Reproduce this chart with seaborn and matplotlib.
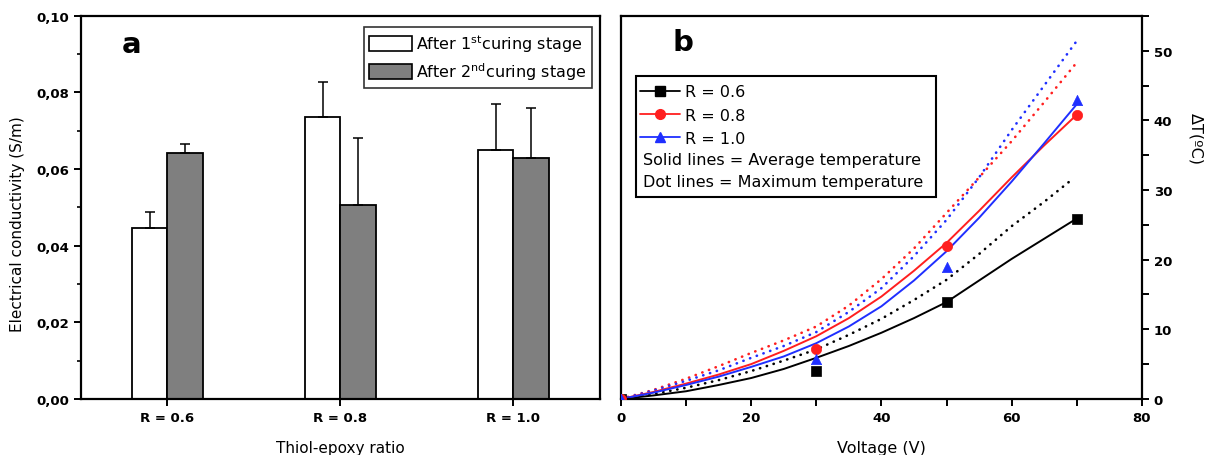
import numpy as np
import pandas as pd
import matplotlib
matplotlib.use("Agg")
import matplotlib.pyplot as plt
import seaborn as sns
from matplotlib.patches import Patch, Rectangle
from matplotlib.lines import Line2D
from matplotlib.ticker import MultipleLocator, FuncFormatter

# ---------------- data: panel a ----------------
categories = ["R = 0.6", "R = 0.8", "R = 1.0"]
stages = ["After 1$^{st}$curing stage", "After 2$^{nd}$curing stage"]
cond_first = [0.0445, 0.0735, 0.0650]
cond_second = [0.0641, 0.0507, 0.0629]
err_top_first = [0.0487, 0.0828, 0.0770]
err_top_second = [0.0666, 0.0680, 0.0760]

# ---------------- data: panel b ----------------
series_labels = ["R = 0.6", "R = 0.8", "R = 1.0"]
volt_pts = [0, 30, 50, 70]
dT_pts_06 = [0, 4.0, 13.9, 25.9]
dT_pts_08 = [0, 7.1, 22.0, 40.8]
dT_pts_10 = [0, 5.8, 19.0, 42.9]

volt_curve = [0, 5, 10, 15, 20, 25, 30, 35, 40, 45, 50, 55, 60, 65, 70]
avg_06 = [0, 0.5, 1.1, 2.0, 3.0, 4.3, 5.9, 7.6, 9.5, 11.6, 13.9, 17.0, 20.1, 23.0, 25.9]
avg_08 = [0, 1.0, 2.2, 3.5, 5.0, 6.9, 9.0, 11.6, 14.7, 18.4, 22.4, 27.0, 31.8, 36.4, 40.8]
avg_10 = [0, 0.9, 2.0, 3.2, 4.6, 6.1, 8.0, 10.4, 13.3, 17.0, 21.2, 26.0, 31.2, 36.7, 42.3]
volt_max_06 = [0, 5, 10, 15, 20, 25, 30, 35, 40, 45, 50, 55, 60, 65, 69]
max_06 = [0, 0.7, 1.6, 2.7, 4.0, 5.5, 7.1, 9.2, 11.5, 14.2, 17.1, 20.8, 24.8, 28.3, 31.3]
max_08 = [0, 1.3, 2.9, 4.7, 6.6, 8.4, 10.4, 13.4, 17.2, 21.6, 26.7, 31.8, 37.0, 42.6, 48.3]
max_10 = [0, 1.2, 2.6, 4.1, 5.9, 7.6, 9.6, 12.5, 15.9, 20.5, 25.7, 31.8, 38.6, 45.0, 51.4]

# ---------------- style ----------------
sns.set_style("ticks")
plt.rcParams["font.family"] = ["DejaVu Sans"]
plt.rcParams["mathtext.default"] = "regular"
plt.rcParams["axes.linewidth"] = 1.6
for k in ["text.color", "axes.labelcolor", "xtick.color", "ytick.color", "axes.edgecolor"]:
    plt.rcParams[k] = "black"

fig = plt.figure(figsize=(12.07, 4.56), dpi=100)
axA = fig.add_axes([0.067, 0.123, 0.430, 0.840])
axB = fig.add_axes([0.5145, 0.123, 0.4315, 0.840])

TICKFONT = dict(labelsize=9.5)

# ---------------- panel a ----------------
df = pd.DataFrame({
    "ratio": categories * 2,
    "value": cond_first + cond_second,
    "stage": [stages[0]] * 3 + [stages[1]] * 3,
})
bar_colors = ["white", "#7f7f7f"]
sns.barplot(data=df, x="ratio", y="value", hue="stage", order=categories,
            hue_order=stages, palette=bar_colors, edgecolor="black",
            linewidth=1.3, width=0.41, legend=False, ax=axA)
tops = [err_top_first, err_top_second]
for p in axA.patches:
    cx = p.get_x() + p.get_width() / 2
    cat = int(round(cx))
    hue = 0 if cx < cat else 1
    h = p.get_height()
    axA.errorbar(cx, h, yerr=[[0], [tops[hue][cat] - h]], fmt="none",
                 ecolor="black", elinewidth=1.1, capsize=3.5, capthick=1.1)

axA.set_xlim(-0.5, 2.5)
axA.set_ylim(0, 0.10)
axA.yaxis.set_major_locator(MultipleLocator(0.02))
axA.yaxis.set_minor_locator(MultipleLocator(0.01))
axA.yaxis.set_major_formatter(FuncFormatter(lambda v, p: f"{v:.2f}".replace(".", ",")))
axA.tick_params(axis="both", which="major", direction="out", length=5, width=1.4,
                **TICKFONT)
axA.tick_params(axis="y", which="minor", direction="out", length=3, width=1.2)
for lab in axA.get_xticklabels() + axA.get_yticklabels():
    lab.set_fontweight("bold")
for s in ["top", "right", "left", "bottom"]:
    axA.spines[s].set_visible(True)
axA.set_xlabel("Thiol-epoxy ratio", fontsize=11, labelpad=12)
axA.set_ylabel("Electrical conductivity (S/m)", fontsize=11, labelpad=10)
axA.yaxis.set_label_coords(-0.108, 0.46)
axA.text(0.098, 0.927, "a", transform=axA.transAxes, fontsize=21,
         fontweight="bold", ha="center", va="center")
handlesA = [Patch(facecolor=c, edgecolor="black", linewidth=1.2) for c in bar_colors]
legA = axA.legend(handlesA, stages, loc="upper right", bbox_to_anchor=(0.985, 0.972),
                  fontsize=11.5, frameon=True, fancybox=False, edgecolor="black",
                  handlelength=2.7, handleheight=1.0, handletextpad=0.25,
                  labelspacing=0.4, borderpad=0.35, borderaxespad=0)
legA.get_frame().set_linewidth(1.2)

# ---------------- panel b ----------------
colors = ["black", "#ff1f1f", "#1f2fff"]
markers = ["s", "o", "^"]
avg_curves = [avg_06, avg_08, avg_10]
max_curves = [(volt_max_06, max_06), (volt_curve, max_08), (volt_curve, max_10)]
pts = [dT_pts_06, dT_pts_08, dT_pts_10]

for i in range(3):
    vx, vy = max_curves[i]
    sns.lineplot(x=vx, y=vy, ax=axB, color=colors[i], linewidth=1.9,
                 linestyle=(0, (0.1, 2.6)), sort=False, estimator=None,
                 dash_capstyle="round")
for i in range(3):
    sns.lineplot(x=volt_curve, y=avg_curves[i], ax=axB, color=colors[i],
                 linewidth=1.4, sort=False, estimator=None)
for i in range(3):
    sns.scatterplot(x=volt_pts, y=pts[i], ax=axB, color=colors[i],
                    marker=markers[i], s=55, edgecolor=colors[i], linewidth=0.5,
                    zorder=5)

axB.set_xlim(0, 80)
axB.set_ylim(0, 55)
axB.xaxis.set_major_locator(MultipleLocator(20))
axB.xaxis.set_minor_locator(MultipleLocator(10))
axB.yaxis.set_major_locator(MultipleLocator(10))
axB.yaxis.set_minor_locator(MultipleLocator(5))
axB.yaxis.tick_right()
axB.yaxis.set_label_position("right")
axB.tick_params(axis="both", which="major", direction="out", length=5, width=1.4,
                **TICKFONT)
axB.tick_params(axis="both", which="minor", direction="out", length=5, width=1.4)
for lab in axB.get_xticklabels() + axB.get_yticklabels():
    lab.set_fontweight("bold")
for s in ["top", "right", "left", "bottom"]:
    axB.spines[s].set_visible(True)
axB.set_xlabel("Voltage (V)", fontsize=11.5, labelpad=12)
axB.set_ylabel("ΔT(ºC)", fontsize=11.5, rotation=270, labelpad=14)
axB.yaxis.set_label_coords(1.118, 0.68)
axB.text(0.119, 0.932, "b", transform=axB.transAxes, fontsize=21,
         fontweight="bold", ha="center", va="center")

handlesB = [Line2D([], [], color=colors[i], marker=markers[i], markersize=7,
                   linewidth=1.3) for i in range(3)]
legB = axB.legend(handlesB, series_labels, loc="upper left",
                  bbox_to_anchor=(0.036, 0.821), frameon=False, fontsize=11.5,
                  handlelength=2.55, handletextpad=0.3, labelspacing=0.52,
                  borderpad=0, borderaxespad=0)
axB.text(0.042, 0.625, "Solid lines = Average temperature", transform=axB.transAxes,
         fontsize=11.5, ha="left", va="center")
axB.text(0.042, 0.567, "Dot lines = Maximum temperature", transform=axB.transAxes,
         fontsize=11.5, ha="left", va="center")
axB.add_patch(Rectangle((0.0288, 0.527), 0.5758, 0.316, transform=axB.transAxes,
                        fill=False, edgecolor="black", linewidth=1.5, zorder=6))

fig.savefig("out.png", dpi=100)
